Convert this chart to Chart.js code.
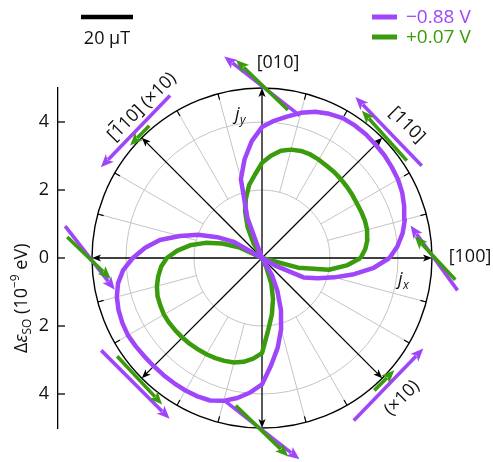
<!DOCTYPE html>
<html>
<head>
<meta charset="utf-8">
<script src="https://cdn.jsdelivr.net/npm/chart.js@4.4.1/dist/chart.umd.min.js"></script>
<style>
  html, body { margin: 0; padding: 0; background: #fff; }
  #wrap { width: 493px; height: 462px; }
</style>
</head>
<body>
<div id="wrap"><canvas id="c" width="493" height="462"></canvas></div>
<script>
// Polar sample angles, degrees counter-clockwise from [100]
const angles = [
    0,   5,  10,  15,  20,  25,  30,  35,  40,  45,  50,  55,
   60,  65,  70,  75,  80,  85,  90,  95, 100, 105, 110, 115,
  120, 125, 130, 135, 140, 145, 150, 155, 160, 165, 170, 175,
  180, 185, 190, 195, 200, 205, 210, 215, 220, 225, 230, 235,
  240, 245, 250, 255, 260, 265, 270, 275, 280, 285, 290, 295,
  300, 305, 310, 315, 320, 325, 330, 335, 340, 345, 350, 355
];

// |Δε_SO| in 10^-9 eV at each angle, gate voltage −0.88 V
const soNeg088 = [
  3.75, 4.00, 4.20, 4.35, 4.45, 4.55, 4.62, 4.66, 4.70, 4.72, 4.75, 4.76,
  4.75, 4.68, 4.58, 4.42, 4.22, 4.05, 3.85, 3.45, 2.95, 2.40, 1.25, 0.00,
  0.00, 0.00, 0.00, 0.00, 0.00, 0.00, 0.95, 1.45, 2.00, 2.50, 3.05, 3.45,
  3.80, 4.10, 4.30, 4.42, 4.49, 4.53, 4.55, 4.53, 4.51, 4.50, 4.50, 4.50,
  4.50, 4.49, 4.46, 4.35, 4.18, 3.97, 3.72, 3.15, 2.67, 2.17, 1.63, 1.07,
  0.60, 0.00, 0.00, 0.00, 0.00, 0.00, 0.45, 1.35, 1.75, 2.20, 2.75, 3.30
];

// |Δε_SO| in 10^-9 eV at each angle, gate voltage +0.07 V
const soPos007 = [
  2.90, 3.05, 3.15, 3.20, 3.22, 3.22, 3.22, 3.24, 3.26, 3.28, 3.30, 3.31,
  3.34, 3.36, 3.35, 3.30, 3.20, 3.02, 2.80, 2.45, 2.18, 1.82, 1.45, 1.00,
  0.50, 0.00, 0.00, 0.00, 0.00, 0.00, 0.00, 0.75, 1.25, 1.72, 2.15, 2.50,
  2.80, 2.98, 3.10, 3.20, 3.27, 3.30, 3.33, 3.33, 3.32, 3.31, 3.30, 3.28,
  3.27, 3.25, 3.22, 3.18, 3.10, 2.97, 2.80, 2.12, 1.68, 1.25, 0.80, 0.30,
  0.00, 0.00, 0.00, 0.00, 0.00, 0.00, 0.00, 0.00, 0.00, 1.10, 2.00, 2.50
];

const seriesLabels = ['\u22120.88 V', '+0.07 V'];
const yTickValues = [-4, -2, 0, 2, 4];

// Current directions (degrees) where the effective field is shown
const fieldDirections = [0, 45, 90, 135, 180, 225, 270, 315];
const fieldDirLabels = ['[100]', '[110]', '[010]', '[1\u030410] (\u00d710)', '', '', '', '(\u00d710)'];
// Display magnification of each field arrow
const fieldMagnify = [1, 1, 1, 10, 1, 1, 1, 10];
// Field magnitude (μT) and in-plane orientation (degrees) per direction
const fieldNeg088Mag = [30.8, 36.7, 36.9, 3.83, 31.0, 37.2, 36.6, 3.85];
const fieldNeg088Ang = [126, 134, 142, 226, 308, 315, 322, 46];
const fieldPos007Mag = [22.9, 25.8, 27.7, 1.06, 23.3, 25.4, 28.1, 1.09];
const fieldPos007Ang = [133, 132, 136, 226, 316, 313, 316, 45];

const scaleBarMicroTesla = 20;

const PURPLE = '#a046fa';
const GREEN = '#3a9c0c';
const FONT = '"Open Sans", "Noto Sans", sans-serif';
const GRID_RINGS = [2, 4];
const OUTER = 5;
const BAR_UNITS = 1.53;   // axis units spanned by the 20 μT scale bar

function polarPoints(ang, rad) {
  const pts = ang.map((a, i) => {
    const t = a * Math.PI / 180;
    return { x: rad[i] * Math.cos(t), y: rad[i] * Math.sin(t) };
  });
  pts.push(pts[0]);
  return pts;
}

function arrowHead(ctx, tx, ty, ux, uy, len, half) {
  const bx = tx - ux * len, by = ty - uy * len;
  const px = -uy, py = ux;
  ctx.beginPath();
  ctx.moveTo(tx, ty);
  ctx.lineTo(bx + px * half, by + py * half);
  ctx.lineTo(tx - ux * len * 0.75, ty - uy * len * 0.75);
  ctx.lineTo(bx - px * half, by - py * half);
  ctx.closePath();
  ctx.fill();
}

// Draws a label; a combining macron (U+0304) becomes an overbar on the preceding glyph
function barredText(ctx, txt) {
  const mark = '\u0304';
  const k = txt.indexOf(mark);
  const plain = txt.replace(mark, '');
  const w = ctx.measureText(plain).width;
  const x0 = -w / 2;
  ctx.textAlign = 'left';
  ctx.fillText(plain, x0, 0);
  if (k > 0) {
    const before = ctx.measureText(plain.slice(0, k - 1)).width;
    const m = ctx.measureText(plain.charAt(k - 1));
    const top = -m.actualBoundingBoxAscent - 2.5;
    ctx.fillRect(x0 + before + 1.5, top - 1.2, m.width - 3, 1.3);
  }
}

const polarFrame = {
  id: 'polarFrame',
  beforeDatasetsDraw(chart) {
    const ctx = chart.ctx;
    const xs = chart.scales.x, ys = chart.scales.y;
    const cx = xs.getPixelForValue(0), cy = ys.getPixelForValue(0);
    const u = xs.getPixelForValue(1) - cx;
    const R = OUTER * u;
    ctx.save();
    // light rings and spokes
    ctx.strokeStyle = '#c4c4c4';
    ctx.lineWidth = 1;
    GRID_RINGS.forEach(r => {
      ctx.beginPath();
      ctx.arc(cx, cy, r * u, 0, Math.PI * 2);
      ctx.stroke();
    });
    for (let a = 0; a < 360; a += 15) {
      if (a % 45 === 0) continue;
      const t = a * Math.PI / 180;
      ctx.beginPath();
      ctx.moveTo(cx + GRID_RINGS[0] * u * Math.cos(t), cy - GRID_RINGS[0] * u * Math.sin(t));
      ctx.lineTo(cx + R * Math.cos(t), cy - R * Math.sin(t));
      ctx.stroke();
    }
    // outer rim with inward ticks
    ctx.strokeStyle = '#000';
    ctx.lineWidth = 1.4;
    ctx.beginPath();
    ctx.arc(cx, cy, R, 0, Math.PI * 2);
    ctx.stroke();
    ctx.lineWidth = 1.2;
    for (let a = 0; a < 360; a += 15) {
      if (a % 45 === 0) continue;
      const t = a * Math.PI / 180;
      ctx.beginPath();
      ctx.moveTo(cx + R * Math.cos(t), cy - R * Math.sin(t));
      ctx.lineTo(cx + (R - 6) * Math.cos(t), cy - (R - 6) * Math.sin(t));
      ctx.stroke();
    }
    // current-direction arrows
    ctx.fillStyle = '#000';
    ctx.lineWidth = 1.3;
    fieldDirections.forEach(a => {
      const t = a * Math.PI / 180;
      const ux = Math.cos(t), uy = -Math.sin(t);
      ctx.beginPath();
      ctx.moveTo(cx, cy);
      ctx.lineTo(cx + (R - 4) * ux, cy + (R - 4) * uy);
      ctx.stroke();
      arrowHead(ctx, cx + R * ux, cy + R * uy, ux, uy, 9, 3.6);
    });
    // inward ticks on the y axis
    const axX = ys.right;
    ctx.lineWidth = 1.3;
    yTickValues.forEach(v => {
      const y = ys.getPixelForValue(v);
      ctx.beginPath();
      ctx.moveTo(axX, y);
      ctx.lineTo(axX + 7, y);
      ctx.stroke();
    });
    ctx.restore();
  },
  afterDatasetsDraw(chart) {
    const ctx = chart.ctx;
    const xs = chart.scales.x, ys = chart.scales.y;
    const cx = xs.getPixelForValue(0), cy = ys.getPixelForValue(0);
    const u = xs.getPixelForValue(1) - cx;
    const R = OUTER * u;
    const barPx = BAR_UNITS * u;
    ctx.save();

    // effective field arrows around the rim
    const sets = [
      { mag: fieldNeg088Mag, ang: fieldNeg088Ang, color: PURPLE, diag: 9, axis: 2 },
      { mag: fieldPos007Mag, ang: fieldPos007Ang, color: GREEN, diag: 3, axis: 3 }
    ];
    sets.forEach(s => {
      ctx.strokeStyle = s.color;
      ctx.fillStyle = s.color;
      ctx.lineWidth = 3.6;
      ctx.lineCap = 'butt';
      fieldDirections.forEach((d, i) => {
        const td = d * Math.PI / 180;
        const off = (d % 90 === 0) ? s.axis : s.diag;
        const mx = cx + (R + off) * Math.cos(td), my = cy - (R + off) * Math.sin(td);
        const L = s.mag[i] * fieldMagnify[i] / scaleBarMicroTesla * barPx;
        const ta = s.ang[i] * Math.PI / 180;
        const ux = Math.cos(ta), uy = -Math.sin(ta);
        const tx = mx + ux * L / 2, ty = my + uy * L / 2;
        const sx = mx - ux * L / 2, sy = my - uy * L / 2;
        const head = 13;
        ctx.beginPath();
        ctx.moveTo(sx, sy);
        ctx.lineTo(tx - ux * head * 0.8, ty - uy * head * 0.8);
        ctx.stroke();
        arrowHead(ctx, tx, ty, ux, uy, head, 5.5);
      });
    });

    // direction labels
    ctx.fillStyle = '#111';
    ctx.font = '18px ' + FONT;
    ctx.textBaseline = 'middle';
    const place = (txt, dx, dy, rot) => {
      ctx.save();
      ctx.translate(cx + dx, cy + dy);
      ctx.rotate(rot * Math.PI / 180);
      barredText(ctx, txt);
      ctx.restore();
    };
    place(fieldDirLabels[2], 16, -195, 0);
    place(fieldDirLabels[1], 145, -133, 45);
    place(fieldDirLabels[0], 208, -1, 0);
    place(fieldDirLabels[3], -120, -151, -45);
    place(fieldDirLabels[7], 140, 140, -45);

    // current component labels j_y and j_x
    const jLabel = (sub, x, y) => {
      ctx.save();
      ctx.fillStyle = '#111';
      ctx.textAlign = 'left';
      ctx.textBaseline = 'alphabetic';
      ctx.font = 'italic 18px ' + FONT;
      ctx.fillText('j', x, y);
      const w = ctx.measureText('j').width;
      ctx.font = 'italic 12px ' + FONT;
      ctx.fillText(sub, x + w + 0.5, y + 4);
      ctx.restore();
    };
    jLabel('y', cx - 27, cy - 138);
    jLabel('x', cx + 136, cy + 27);

    // legend
    const legend = [[seriesLabels[0], PURPLE, 17], [seriesLabels[1], GREEN, 37]];
    legend.forEach(([txt, col, y]) => {
      ctx.strokeStyle = col;
      ctx.lineWidth = 5;
      ctx.beginPath();
      ctx.moveTo(372, y);
      ctx.lineTo(397, y);
      ctx.stroke();
      ctx.fillStyle = col;
      ctx.font = '19px ' + FONT;
      ctx.textAlign = 'left';
      ctx.textBaseline = 'middle';
      ctx.fillText(txt, 406, y + 1);
    });

    // scale bar
    ctx.strokeStyle = '#000';
    ctx.lineWidth = 4.5;
    ctx.beginPath();
    ctx.moveTo(81, 17);
    ctx.lineTo(81 + barPx, 17);
    ctx.stroke();
    ctx.fillStyle = '#111';
    ctx.font = '18px ' + FONT;
    ctx.textAlign = 'center';
    ctx.textBaseline = 'middle';
    ctx.fillText(scaleBarMicroTesla + ' \u03bcT', 81 + barPx / 2, 39);

    // y-axis title, drawn piecewise for sub/superscripts
    ctx.translate(26.5, 353);
    ctx.rotate(-Math.PI / 2);
    ctx.textAlign = 'left';
    ctx.textBaseline = 'alphabetic';
    let x = 0;
    const piece = (txt, font, dy) => {
      ctx.font = font;
      ctx.fillText(txt, x, dy);
      x += ctx.measureText(txt).width;
    };
    piece('\u0394', '18px ' + FONT, 0);
    piece('\u03b5', 'italic 18px ' + FONT, 0);
    piece('SO', '12px ' + FONT, 4);
    piece(' (10', '18px ' + FONT, 0);
    piece('\u22129', '12px ' + FONT, -8);
    piece(' eV)', '18px ' + FONT, 0);
    ctx.restore();
  }
};

const chart = new Chart(document.getElementById('c'), {
  type: 'scatter',
  data: {
    datasets: [
      {
        label: seriesLabels[0],
        data: polarPoints(angles, soNeg088),
        showLine: true,
        borderColor: PURPLE,
        borderWidth: 4.5,
        borderJoinStyle: 'round',
        pointRadius: 0,
        tension: 0,
        fill: false
      },
      {
        label: seriesLabels[1],
        data: polarPoints(angles, soPos007),
        showLine: true,
        borderColor: GREEN,
        borderWidth: 4.5,
        borderJoinStyle: 'round',
        pointRadius: 0,
        tension: 0,
        fill: false
      }
    ]
  },
  options: {
    responsive: false,
    animation: false,
    layout: { padding: { left: 0, right: 61, top: 88, bottom: 34 } },
    plugins: { legend: { display: false }, tooltip: { enabled: false } },
    scales: {
      x: { type: 'linear', min: -6, max: 5, display: false },
      y: {
        type: 'linear', min: -5, max: 5, position: 'left',
        afterFit(s) { s.width = 58; },
        afterBuildTicks(s) { s.ticks = yTickValues.map(v => ({ value: v })); },
        grid: { display: false, drawTicks: false },
        border: { display: true, color: '#000', width: 1.3 },
        ticks: {
          padding: 9, color: '#111',
          font: { family: FONT, size: 18 },
          callback: v => String(Math.abs(v))
        }
      }
    }
  },
  plugins: [polarFrame]
});
</script>
</body>
</html>
